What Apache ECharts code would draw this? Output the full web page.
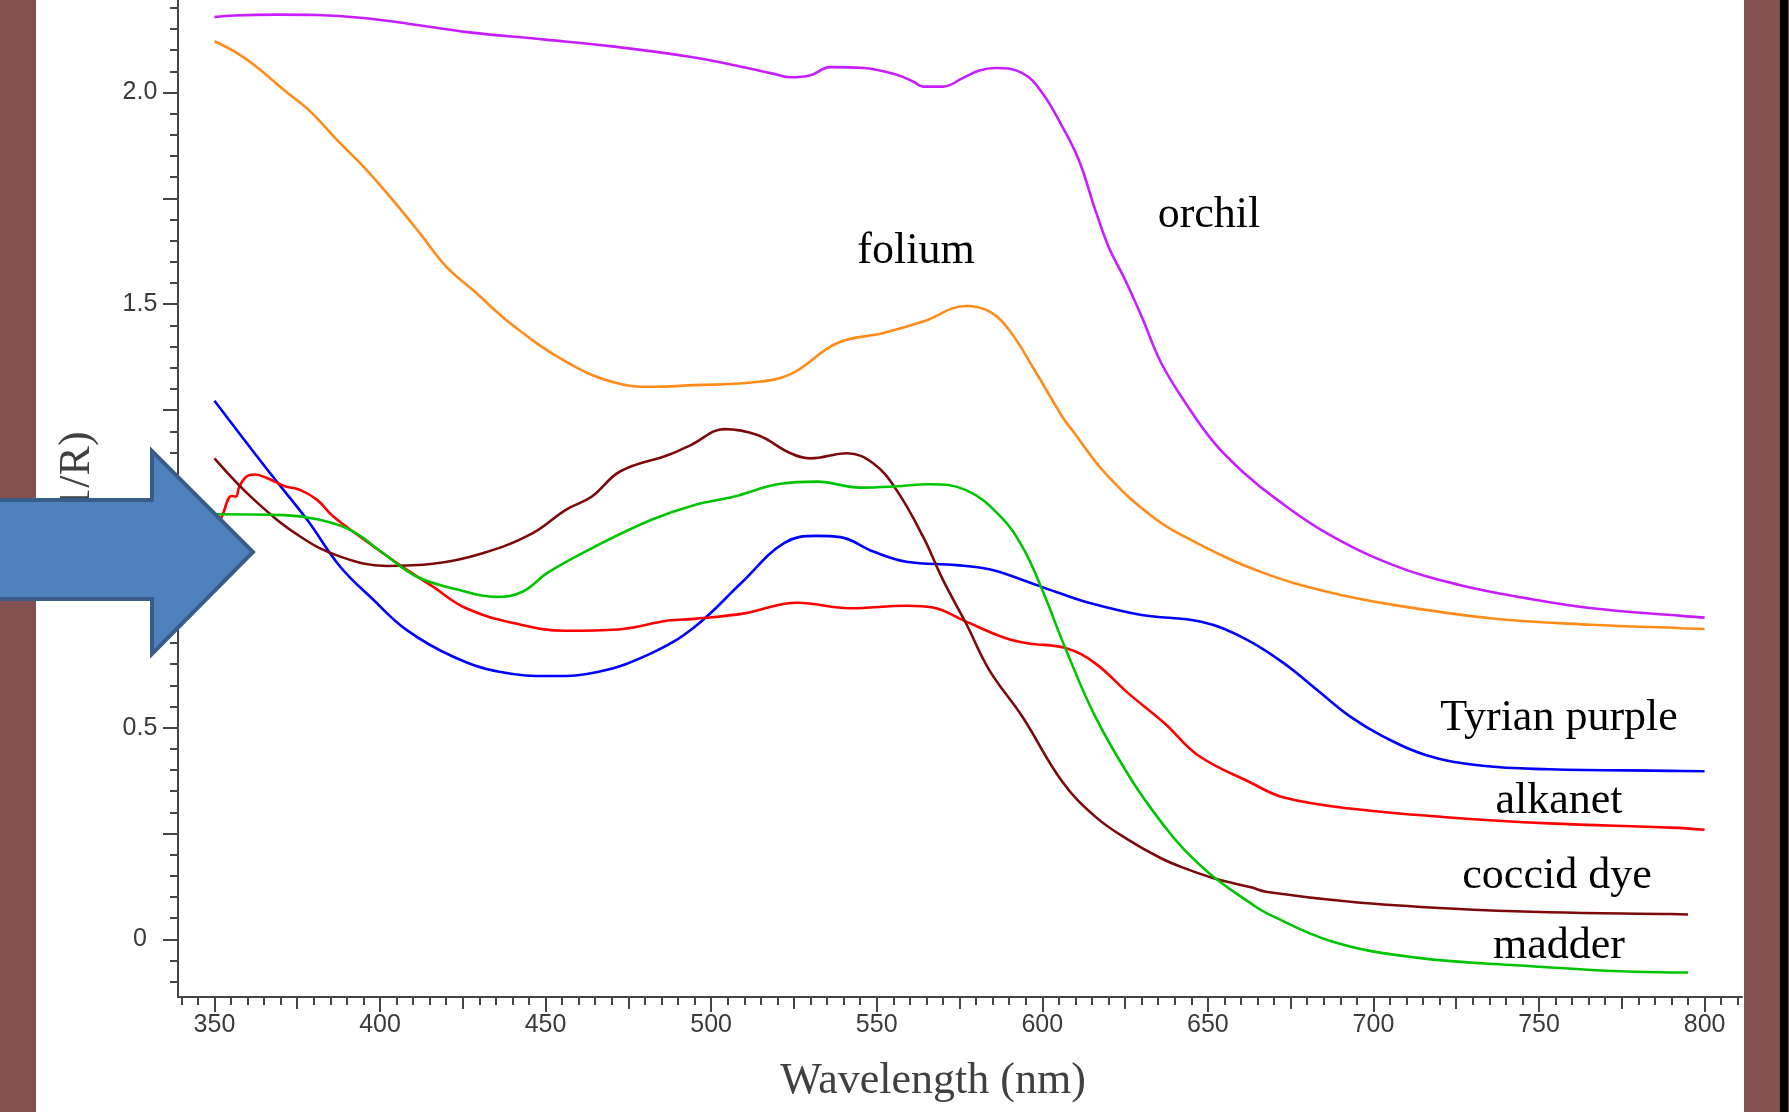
<!DOCTYPE html>
<html>
<head>
<meta charset="utf-8">
<title>Reflectance spectra of purple dyes</title>
<script src="https://cdn.jsdelivr.net/npm/echarts@6.0.0/dist/echarts.min.js"></script>
<style>
  html, body { margin: 0; padding: 0; width: 1789px; height: 1112px; overflow: hidden; }
  body {
    background: linear-gradient(to right,
      #845050 0px, #845050 36px, #ffffff 36px, #ffffff 1744px,
      #845050 1744px, #845050 1780px, #000000 1780px, #000000 1788px, #845050 1788px);
  }
  #main { width: 1789px; height: 1112px; }
</style>
</head>
<body>
<div id="main"></div>
<script>
// spectra: wavelength (nm) / log(1/R)
var orchilNm  = [350, 356, 369, 381, 395, 409, 427, 450, 470, 494, 509, 519, 524, 530, 536, 546, 556, 561, 564, 570, 576, 581, 586, 594, 600, 606, 611, 616, 620, 625, 630, 636, 644, 652, 661, 671, 686, 706, 726, 746, 766, 793, 800];
var orchilVal = [2.178, 2.182, 2.184, 2.183, 2.176, 2.162, 2.142, 2.125, 2.109, 2.084, 2.061, 2.044, 2.036, 2.041, 2.060, 2.058, 2.042, 2.026, 2.014, 2.014, 2.034, 2.052, 2.058, 2.046, 1.999, 1.920, 1.841, 1.723, 1.636, 1.558, 1.471, 1.360, 1.258, 1.172, 1.101, 1.038, 0.959, 0.884, 0.837, 0.806, 0.782, 0.764, 0.760];

var foliumNm  = [350, 356, 362, 371, 379, 387, 395, 403, 412, 420, 428, 440, 456, 470, 482, 495, 512, 524, 538, 552, 564, 577, 584, 590, 598, 606, 609, 619, 633, 646, 666, 686, 706, 736, 766, 793, 800];
var foliumVal = [2.121, 2.097, 2.065, 2.006, 1.955, 1.888, 1.825, 1.754, 1.668, 1.589, 1.534, 1.451, 1.365, 1.317, 1.305, 1.309, 1.315, 1.335, 1.408, 1.432, 1.459, 1.496, 1.483, 1.439, 1.340, 1.235, 1.203, 1.101, 1.000, 0.939, 0.868, 0.821, 0.790, 0.758, 0.743, 0.735, 0.733];

var tyrianNm  = [350, 366, 378, 388, 398, 408, 422, 436, 452, 466, 482, 495, 509, 522, 532, 539, 549, 559, 574, 584, 594, 604, 614, 630, 648, 661, 673, 683, 693, 703, 716, 733, 753, 790, 800];
var tyrianVal = [1.272, 1.109, 0.991, 0.880, 0.802, 0.731, 0.668, 0.632, 0.622, 0.632, 0.676, 0.738, 0.841, 0.936, 0.953, 0.950, 0.916, 0.892, 0.884, 0.874, 0.849, 0.821, 0.795, 0.766, 0.750, 0.711, 0.652, 0.589, 0.526, 0.479, 0.435, 0.410, 0.402, 0.398, 0.397];

var alkanetNm  = [351.5, 352.2, 355.2, 356.5, 357.5, 359.7, 362.2, 366, 371, 376, 381, 386, 394, 406, 416, 426, 441, 456, 472, 487, 495, 510, 526, 542, 559, 567, 576, 589, 596, 607, 616, 626, 637, 647, 663, 673, 693, 723, 753, 790, 800];
var alkanetVal = [0.990, 0.998, 1.047, 1.046, 1.069, 1.093, 1.098, 1.089, 1.071, 1.061, 1.038, 0.998, 0.951, 0.884, 0.833, 0.782, 0.746, 0.729, 0.732, 0.753, 0.757, 0.770, 0.795, 0.782, 0.788, 0.784, 0.754, 0.711, 0.699, 0.688, 0.652, 0.581, 0.510, 0.435, 0.370, 0.335, 0.309, 0.288, 0.274, 0.264, 0.259];

var coccidNm  = [350, 362, 376, 388, 402, 416, 431, 446, 456, 464, 472.5, 487, 494, 504, 514, 524, 530, 541, 549, 556, 564, 570, 577, 584, 594, 606, 616, 626, 636, 643, 652, 663, 668, 693, 723, 753, 790, 795];
var coccidVal = [1.136, 1.038, 0.951, 0.904, 0.882, 0.887, 0.912, 0.959, 1.014, 1.046, 1.105, 1.144, 1.168, 1.205, 1.191, 1.148, 1.136, 1.148, 1.124, 1.061, 0.951, 0.849, 0.746, 0.636, 0.526, 0.373, 0.290, 0.235, 0.191, 0.168, 0.144, 0.123, 0.112, 0.089, 0.073, 0.064, 0.060, 0.059];

var madderNm  = [350, 371, 381, 391, 401, 411, 424, 435, 443, 451, 466, 482, 495, 507, 521, 532, 545, 554, 566, 577, 587, 594, 600, 607, 616, 627, 637, 643, 652, 663, 668, 688, 713, 743, 790, 795];
var madderVal = [1.004, 1.002, 0.992, 0.967, 0.912, 0.857, 0.825, 0.809, 0.821, 0.868, 0.932, 0.991, 1.026, 1.046, 1.076, 1.081, 1.067, 1.069, 1.075, 1.061, 1.002, 0.927, 0.825, 0.687, 0.526, 0.376, 0.266, 0.211, 0.146, 0.085, 0.061, -0.006, -0.043, -0.061, -0.078, -0.078];

// tick positions
var xLabelTicks = [350, 400, 450, 500, 550, 600, 650, 700, 750, 800];
var xMidTicks   = [375, 425, 475, 525, 575, 625, 675, 725, 775];
var yLabelTicks = [0, 0.5, 1, 1.5, 2];
var yMajorTicks = [0, 0.25, 0.5, 0.75, 1, 1.25, 1.5, 1.75, 2];
var xMinorTicks = [];
for (var i = 340; i <= 810; i += 5) xMinorTicks.push(i);
var yMinorTicks = [];
for (var j = -2; j <= 44; j++) yMinorTicks.push(Math.round(j * 5) / 100);

var curves = [
  { name: 'orchil',        nm: orchilNm,  val: orchilVal,  color: '#c81eff' },
  { name: 'folium',        nm: foliumNm,  val: foliumVal,  color: '#ff8c1a' },
  { name: 'Tyrian purple', nm: tyrianNm,  val: tyrianVal,  color: '#0000ff' },
  { name: 'alkanet',       nm: alkanetNm, val: alkanetVal, color: '#ff0000' },
  { name: 'coccid dye',    nm: coccidNm,  val: coccidVal,  color: '#7d0a0a' },
  { name: 'madder',        nm: madderNm,  val: madderVal,  color: '#00c400' }
];

var X_MIN = 339, X_MAX = 811.3;
var Y_MIN = -0.136, Y_MAX = 2.2185;
var axisGray = '#454545';

function pairs(nm, val) {
  return nm.map(function (x, k) { return [x, val[k]]; });
}

// extra axes that only draw the shorter ticks
function tickAxis(values, len, min, max, pos) {
  return {
    type: 'value', position: pos, min: min, max: max,
    axisLine: { show: false, onZero: false },
    axisTick: { show: true, customValues: values, length: len, lineStyle: { color: axisGray, width: 2 } },
    axisLabel: { show: false },
    splitLine: { show: false }
  };
}

function label(text, x, y) {
  return {
    type: 'text', x: x, y: y, z: 50,
    style: {
      text: text, fill: '#000', fontSize: 44, fontFamily: 'Liberation Serif',
      align: 'center', verticalAlign: 'middle', textAlign: 'center', textVerticalAlign: 'middle'
    }
  };
}

var chart = echarts.init(document.getElementById('main'));

chart.setOption({
  animation: false,
  backgroundColor: 'transparent',
  grid: { left: 178, right: 47, top: 0, bottom: 115, outerBoundsMode: 'none' },
  xAxis: [
    {
      type: 'value', position: 'bottom', min: X_MIN, max: X_MAX,
      axisLine: { show: true, onZero: false, lineStyle: { color: axisGray, width: 2 } },
      axisTick: { show: true, customValues: xLabelTicks, length: 15, lineStyle: { color: axisGray, width: 2 } },
      axisLabel: { customValues: xLabelTicks, margin: 16, fontSize: 25, fontFamily: 'Liberation Sans', color: '#3a3a3a' },
      splitLine: { show: false },
      name: 'Wavelength (nm)', nameLocation: 'middle', nameGap: 62,
      nameTextStyle: { fontSize: 44, fontFamily: 'Liberation Serif', color: '#404040', padding: [0, 54, 0, 0] }
    },
    tickAxis(xMidTicks, 12, X_MIN, X_MAX, 'bottom'),
    tickAxis(xMinorTicks, 8, X_MIN, X_MAX, 'bottom')
  ],
  yAxis: [
    {
      type: 'value', position: 'left', min: Y_MIN, max: Y_MAX,
      axisLine: { show: true, onZero: false, lineStyle: { color: axisGray, width: 2 } },
      axisTick: { show: true, customValues: yMajorTicks, length: 15, lineStyle: { color: axisGray, width: 2 } },
      axisLabel: {
        customValues: yLabelTicks, margin: 38, align: 'center',
        fontSize: 25, fontFamily: 'Liberation Sans', color: '#3a3a3a',
        formatter: function (v) { return v === 0 ? '0' : v.toFixed(1); }
      },
      splitLine: { show: false }
    },
    tickAxis(yMinorTicks, 8, Y_MIN, Y_MAX, 'left')
  ],
  series: curves.map(function (c) {
    return {
      name: c.name, type: 'line', xAxisIndex: 0, yAxisIndex: 0,
      data: pairs(c.nm, c.val),
      showSymbol: false, smooth: 0.4,
      lineStyle: { color: c.color, width: 2.6 },
      itemStyle: { color: c.color }
    };
  }),
  graphic: [
    label('orchil', 1209, 215),
    label('folium', 916, 251),
    label('Tyrian purple', 1559, 718),
    label('alkanet', 1559, 801),
    label('coccid dye', 1557, 876),
    label('madder', 1559, 946),
    {
      // y axis title, mostly hidden behind the arrow
      type: 'text', x: 77, y: 506, rotation: Math.PI / 2, z: 40,
      style: {
        text: 'log(1/R)', fill: '#404040', fontSize: 44, fontFamily: 'Liberation Serif',
        align: 'center', verticalAlign: 'middle', textAlign: 'center', textVerticalAlign: 'middle'
      }
    },
    {
      type: 'polygon', z: 100,
      shape: { points: [[-6, 500], [152, 500], [152, 451], [253, 552], [152, 654], [152, 599], [-6, 599]] },
      style: { fill: '#4f81bd', stroke: '#385d8a', lineWidth: 4, lineJoin: 'miter' }
    }
  ]
});
</script>
</body>
</html>
